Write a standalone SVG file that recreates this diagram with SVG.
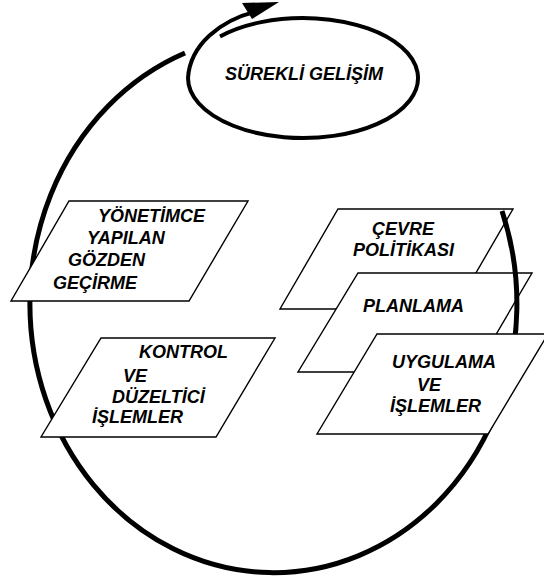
<svg xmlns="http://www.w3.org/2000/svg" width="544" height="581" viewBox="0 0 544 581">
<style>
.box{fill:#fff;stroke:#000;stroke-width:1.4;stroke-linejoin:miter}
.t{font-family:"Liberation Sans",Arial,sans-serif;font-weight:bold;font-style:italic;font-size:18px;fill:#000}
.loop{fill:none;stroke:#000;stroke-width:5;stroke-linecap:butt}
.ell{fill:none;stroke:#000;stroke-width:4}
</style>
<rect width="544" height="581" fill="#fff"/>
<g id="cevre">
<polygon class="box" points="338,209 513,209 455,309 280,309"/>
<text class="t" x="372" y="235">ÇEVRE</text>
<text class="t" x="353" y="256">POLİTİKASI</text>
</g>
<g id="planlama">
<polygon class="box" points="358,273 532,273 474,372 298,372"/>
<text class="t" x="363" y="312">PLANLAMA</text>
</g>
<g id="connectors">
<path class="loop" d="M 502 211 A 243.5 269 0 1 1 185 53"/>
<path class="ell" d="M 188 78 C 190 45 220 20 258 11"/>
<polygon points="242,3 279,2 252,19" fill="#000"/>
</g>
<g id="uygulama">
<polygon class="box" points="377,334 548,334 488,434 317,434"/>
<text class="t" x="392" y="368">UYGULAMA</text>
<text class="t" x="417" y="391">VE</text>
<text class="t" x="390" y="412">İŞLEMLER</text>
</g>
<g id="yonetim">
<polygon class="box" points="69,201 248,201 189,301 11,301"/>
<text class="t" x="98" y="222">YÖNETİMCE</text>
<text class="t" x="87" y="244">YAPILAN</text>
<text class="t" x="68" y="266">GÖZDEN</text>
<text class="t" x="53" y="289">GEÇİRME</text>
</g>
<g id="kontrol">
<polygon class="box" points="101,338 275,338 216,437 41,437"/>
<text class="t" x="139" y="358">KONTROL</text>
<text class="t" x="123" y="382">VE</text>
<text class="t" x="112" y="403">DÜZELTİCİ</text>
<text class="t" x="92" y="423">İŞLEMLER</text>
</g>
<g id="surekli">
<path class="ell" d="M 220 36.5 A 115 60 0 1 1 188 78"/>
<text class="t" x="225" y="80">SÜREKLİ GELİŞİM</text>
</g>
</svg>
